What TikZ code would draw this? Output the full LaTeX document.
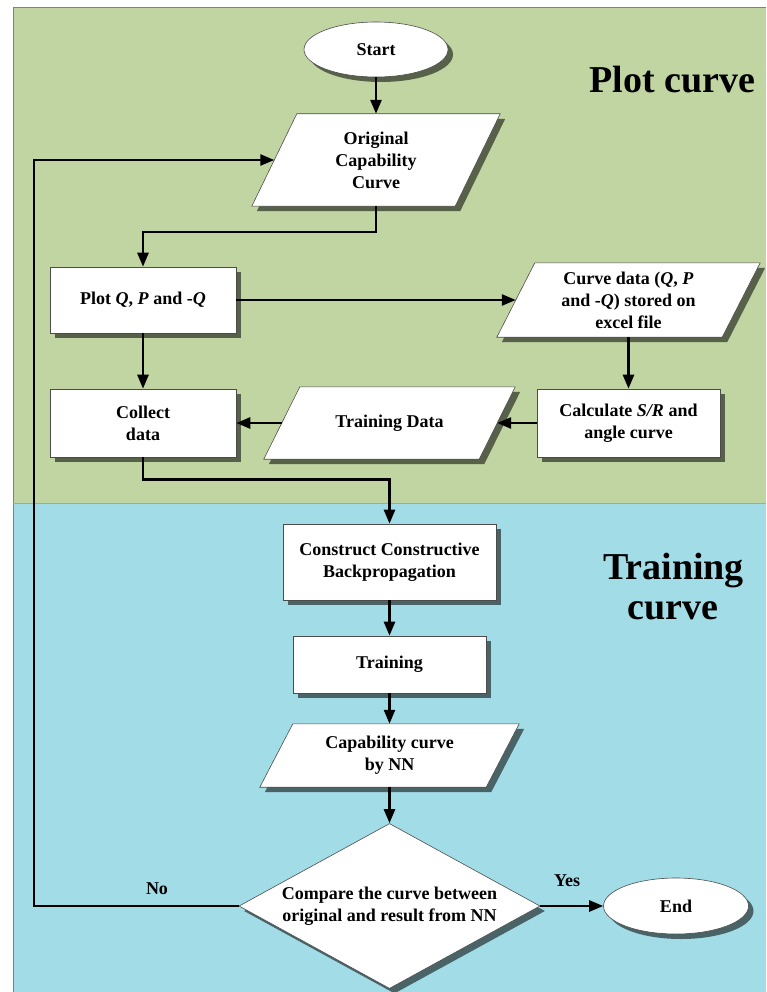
\documentclass[tikz,border=0pt]{standalone}
\usepackage{fontspec}
\setmainfont{Liberation Serif}
\usetikzlibrary{shapes.geometric,shadows,arrows.meta,calc}
\definecolor{bggreen}{RGB}{193,213,163}
\definecolor{bgblue}{RGB}{162,220,230}
\definecolor{framegray}{RGB}{128,128,128}
\pgfdeclarelayer{backdrop}
\pgfdeclarelayer{shapes}
\pgfsetlayers{backdrop,shapes,main}
\newcommand\ioshape[2]{%
  \begin{pgfonlayer}{shapes}
    \path[box] ([xshift=-#2pt]#1.south west) -- ([xshift=#2pt]#1.north west)
      -- ([xshift=#2pt]#1.north east) -- ([xshift=-#2pt]#1.south east) -- cycle;
  \end{pgfonlayer}}
\begin{document}
\begin{tikzpicture}[x=1pt,y=-1pt,
  every node/.style={font=\fontsize{18}{22}\selectfont\bfseries, align=center},
  box/.style={draw=black!70, line width=0.6pt, fill=white,
    drop shadow={shadow xshift=5pt,shadow yshift=-5pt,fill=black,opacity=0.55}},
  procbox/.style={box, rectangle, inner sep=2pt},
  iotext/.style={rectangle, inner sep=0pt},
  termbox/.style={box, ellipse, inner sep=0pt},
  decbox/.style={box, diamond, inner sep=0pt, shape aspect=1.82},
  conn/.style={line width=2.6pt, -{Triangle[length=14pt,width=11pt]}},
  title/.style={font=\fontsize{38}{40}\selectfont\bfseries}
]
\useasboundingbox (0,0) rectangle (766,992);
\begin{pgfonlayer}{backdrop}
\fill[white] (0,0) rectangle (766,992);
\fill[bggreen] (13,8) rectangle (766,503);
\fill[bgblue] (13,503) rectangle (766,992);
\draw[framegray, line width=1pt] (13,992) -- (13,8) -- (766,8);
\draw[framegray!70, line width=0.6pt] (13,503) -- (766,503);
\end{pgfonlayer}

\node[title, anchor=base] (t1) at (672.5,93) {Plot curve};
\node[title, anchor=base] (t2a) at (673.5,579) {Training};
\node[title, anchor=base] (t2b) at (673,619) {curve};

\node[termbox, minimum width=144pt, minimum height=55pt] (start) at (376,49.5) {Start};
\node[iotext, minimum width=203pt, minimum height=92pt] (orig) at (376,160) {Original\\Capability\\Curve};
\ioshape{orig}{22.5}
\node[procbox, minimum width=186pt, minimum height=66pt] (plot) at (143,300) {Plot \textit{Q}, \textit{P} and -\textit{Q}};
\node[iotext, minimum width=225pt, minimum height=74pt] (cdata) at (628.5,300) {Curve data (\textit{Q}, \textit{P}\\and -\textit{Q}) stored on\\excel file};
\ioshape{cdata}{19}
\node[procbox, minimum width=183pt, minimum height=68pt] (calc) at (628.5,423) {Calculate \textit{S/R} and\\angle curve};
\node[iotext, minimum width=215pt, minimum height=72pt] (tdata) at (389.5,423) {Training Data};
\ioshape{tdata}{18}
\node[procbox, minimum width=186pt, minimum height=68pt] (collect) at (143,423) {Collect\\data};
\node[procbox, minimum width=213pt, minimum height=76pt] (construct) at (389.5,562) {Construct Constructive\\Backpropagation};
\node[procbox, minimum width=193pt, minimum height=57pt] (training) at (389.5,664.5) {Training};
\node[iotext, minimum width=226pt, minimum height=63pt] (capnn) at (389.5,755.5) {Capability curve\\by NN};
\ioshape{capnn}{16.5}
\node[decbox, minimum width=301pt, minimum height=165pt] (cmp) at (389.5,906) {Compare the curve between\\original and result from NN};
\node[termbox, minimum width=145pt, minimum height=56pt] (stop) at (676,906) {End};

\coordinate (loopx) at (34,0);

\draw[conn] (start.south) -- (orig.north);
\draw[conn] (orig.south) -- ++(0,26) -| (plot.north);
\draw[conn] (plot.east) -- (cdata.west);
\draw[conn] (cdata.south) -- (calc.north);
\draw[conn] (calc.west) -- (tdata.east);
\draw[conn] (tdata.west) -- (collect.east);
\draw[conn] (plot.south) -- (collect.north);
\draw[conn] (collect.south) -- ++(0,22) -| (construct.north);
\draw[conn] (construct.south) -- (training.north);
\draw[conn] (training.south) -- (capnn.north);
\draw[conn] (capnn.south) -- (cmp.north);
\draw[conn] (cmp.east) -- (stop.west);
\draw[conn] (cmp.west) -- (cmp.west -| loopx) |- (orig.west);

\node (yes) at (567,881) {Yes};
\node (no) at (157,889) {No};
\end{tikzpicture}
\end{document}
